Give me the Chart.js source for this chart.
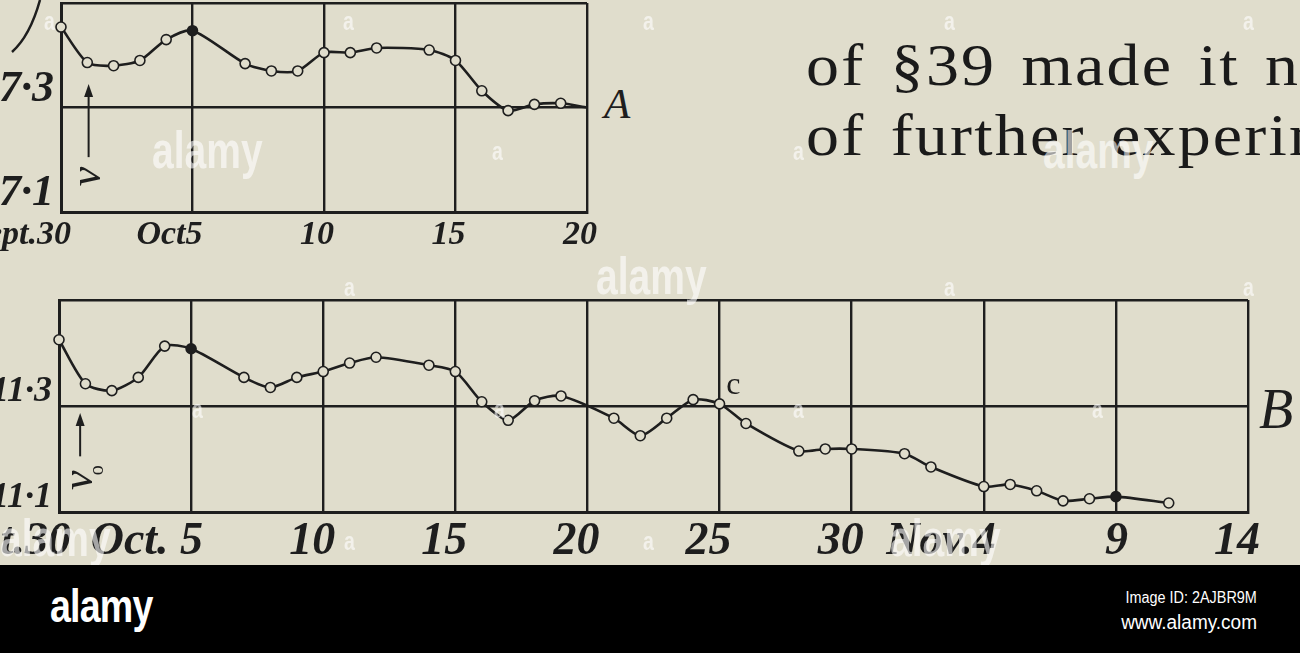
<!DOCTYPE html>
<html>
<head>
<meta charset="utf-8">
<script src="https://cdn.jsdelivr.net/npm/chart.js@4.4.1/dist/chart.umd.min.js"></script>
<style>
  html, body { margin: 0; padding: 0; }
  body {
    width: 1300px; height: 653px; overflow: hidden; position: relative;
    background: #e0ddcc; font-family: "Liberation Serif", serif; color: #1e1e1e;
  }
  .abs { position: absolute; }
  #canvasA { position: absolute; left: -40px; top: -7px; }
  #canvasB { position: absolute; left: -40px; top: 290px; }
  .prose {
    position: absolute; left: 806px; font-size: 60px; line-height: 1;
    letter-spacing: 2px; word-spacing: 6px; white-space: nowrap; color: #1a1a1a;
    transform: scaleX(1.1); transform-origin: 0 0;
  }
  .tag { position: absolute; font-style: italic; line-height: 1; color: #1e1e1e; }
  .wm { position: absolute; color: rgba(255,255,255,0.6); font-family: "Liberation Sans", sans-serif; font-weight: bold; line-height: 1; transform: scaleX(0.75); transform-origin: 0 0; z-index: 4; }
  #banner { position: absolute; left: 0; top: 565px; width: 1300px; height: 88px; background: #000; z-index: 6; }
  #banner div { position: absolute; color: #fff; font-family: "Liberation Sans", sans-serif; line-height: 1; white-space: nowrap; }
</style>
</head>
<body>

<canvas id="canvasA" width="640" height="260"></canvas>
<canvas id="canvasB" width="1300" height="290"></canvas>

<!-- curve at the top left, part of a cut label -->
<svg class="abs" style="left:0;top:0" width="60" height="60">
  <path d="M40 0 Q30 36 12 52" stroke="#1e1e1e" stroke-width="2.5" fill="none"/>
</svg>

<div class="tag" style="left:604px;top:82px;font-size:43px">A</div>
<div class="tag" style="left:1259px;top:381px;font-size:56px">B</div>

<div class="prose" style="top:35px">of §39 made it necessary</div>
<div class="prose" style="top:105px">of further experiments</div>

<!-- watermarks -->
<div class="wm" style="left:152px;top:124px;font-size:52px">alamy</div>
<div class="wm" style="left:596px;top:250px;font-size:52px">alamy</div>
<div class="wm" style="left:1043px;top:124px;font-size:52px">alamy</div>
<div class="wm" style="left:0px;top:512px;font-size:52px">alamy</div>
<div class="wm" style="left:890px;top:512px;font-size:52px">alamy</div>
<div class="wm" style="left:44px;top:8px;font-size:26px">a</div>
<div class="wm" style="left:343px;top:8px;font-size:26px">a</div>
<div class="wm" style="left:643px;top:8px;font-size:26px">a</div>
<div class="wm" style="left:944px;top:8px;font-size:26px">a</div>
<div class="wm" style="left:1243px;top:8px;font-size:26px">a</div>
<div class="wm" style="left:492px;top:138px;font-size:26px">a</div>
<div class="wm" style="left:793px;top:138px;font-size:26px">a</div>
<div class="wm" style="left:344px;top:274px;font-size:26px">a</div>
<div class="wm" style="left:944px;top:274px;font-size:26px">a</div>
<div class="wm" style="left:1243px;top:274px;font-size:26px">a</div>
<div class="wm" style="left:192px;top:396px;font-size:26px">a</div>
<div class="wm" style="left:494px;top:396px;font-size:26px">a</div>
<div class="wm" style="left:793px;top:396px;font-size:26px">a</div>
<div class="wm" style="left:1092px;top:396px;font-size:26px">a</div>
<div class="wm" style="left:344px;top:528px;font-size:26px">a</div>
<div class="wm" style="left:643px;top:528px;font-size:26px">a</div>

<div id="banner">
  <div style="left:50px;top:17px;font-size:47px;font-weight:bold;transform:scaleX(0.8);transform-origin:0 0;letter-spacing:-1px">alamy</div>
  <div style="right:43px;top:25px;font-size:16px;transform:scaleX(0.9);transform-origin:100% 0">Image ID: 2AJBR9M</div>
  <div style="right:43px;top:47px;font-size:20px;transform:scaleX(0.95);transform-origin:100% 0">www.alamy.com</div>
</div>

<script>
// Colours
const INK = '#1e1e1e';
const PAPER = '#e0ddcc';

// Chart A (days after Sept 30)
const daysA = [0, 1, 2, 3, 4, 5, 7, 8, 9, 10, 11, 12, 14, 15, 16, 17, 18, 19, 20];
const valuesA = [7.454, 7.386, 7.380, 7.390, 7.430, 7.447, 7.384, 7.370, 7.370, 7.405,
                 7.405, 7.414, 7.410, 7.390, 7.332, 7.294, 7.306, 7.308, 7.300];
const xTicksA = ['Sept.30', 'Oct5', '10', '15', '20'];
const yTickValuesA = [7.1, 7.3];
const yTickLabelsA = ['7·1', '7·3'];

// Chart B (days after Sept 30)
const daysB = [0, 1, 2, 3, 4, 5, 7, 8, 9, 10, 11, 12, 14, 15, 16, 17, 18, 19,
               21, 22, 23, 24, 25, 26, 28, 29, 30, 32, 33, 35, 36, 37, 38, 39, 40, 42];
const valuesB = [11.425, 11.342, 11.329, 11.354, 11.413, 11.408, 11.354, 11.335, 11.354,
                 11.365, 11.381, 11.392, 11.377, 11.365, 11.308, 11.273, 11.310, 11.319,
                 11.277, 11.244, 11.277, 11.312, 11.304, 11.267, 11.215, 11.219, 11.219,
                 11.210, 11.185, 11.148, 11.152, 11.140, 11.121, 11.125, 11.129, 11.117];
const xTicksB = ['Sept.30', 'Oct. 5', '10', '15', '20', '25', '30', 'Nov.4', '9', '14'];
const yTickValuesB = [11.1, 11.3];
const yTickLabelsB = ['11·1', '11·3'];

// Days drawn with a filled dot instead of an open ring
const filledA = [5];
const filledB = [5, 40];

// Arrow and symbol on the y side of each chart, the "c" note on B
const annotate = {
    id: 'annotate',
    afterDatasetsDraw(chart, args, opts) {
        if (!opts || opts.arrowDay === undefined) return;
        const { ctx, scales: { x, y } } = chart;
        const ax = x.getPixelForValue(opts.arrowDay);
        const yBottom = y.getPixelForValue(opts.arrowFrom);
        const yTop = y.getPixelForValue(opts.arrowTo);
        ctx.save();
        ctx.strokeStyle = INK;
        ctx.fillStyle = INK;
        ctx.lineWidth = 2;
        ctx.beginPath();
        ctx.moveTo(ax, yBottom);
        ctx.lineTo(ax, yTop + 8);
        ctx.stroke();
        ctx.beginPath();
        ctx.moveTo(ax, yTop);
        ctx.lineTo(ax - 4.5, yTop + 13);
        ctx.lineTo(ax + 4.5, yTop + 13);
        ctx.closePath();
        ctx.fill();

        // rotated symbol under the arrow
        const sy = y.getPixelForValue(opts.symbolAt);
        ctx.save();
        ctx.translate(ax, sy);
        ctx.rotate(-Math.PI / 2);
        ctx.font = 'italic 44px "Liberation Serif"';
        ctx.textAlign = 'center';
        ctx.textBaseline = 'middle';
        ctx.fillText('ν', 0, 0);
        if (opts.subscript) {
            ctx.font = '20px "Liberation Serif"';
            ctx.fillText('o', 10, 18);
        }
        ctx.restore();

        if (opts.note) {
            ctx.font = '32px "Liberation Serif"';
            ctx.textAlign = 'left';
            ctx.textBaseline = 'alphabetic';
            ctx.fillText(opts.note.text, x.getPixelForValue(opts.note.day), y.getPixelForValue(opts.note.value));
        }
        ctx.restore();
    }
};

function tickLabel(values, labels) {
    return function(value) {
        for (let i = 0; i < values.length; i++) {
            if (Math.abs(values[i] - value) < 1e-6) return labels[i];
        }
        return '';
    };
}

function makeChart(id, cfg) {
    const points = cfg.days.map((d, i) => ({ x: d, y: cfg.values[i] }));
    const radius = cfg.days.map(d => (cfg.noMarker.includes(d) ? 0 : 5));
    const fills = cfg.days.map(d => (cfg.filled.includes(d) ? INK : PAPER));

    return new Chart(document.getElementById(id).getContext('2d'), {
        type: 'line',
        data: {
            datasets: [{
                data: points,
                borderColor: INK,
                borderWidth: 2.6,
                tension: 0.25,
                pointRadius: radius,
                pointBackgroundColor: fills,
                pointBorderColor: INK,
                pointBorderWidth: 1.6,
                clip: false
            }]
        },
        plugins: [annotate],
        options: {
            responsive: false,
            animation: false,
            events: [],
            layout: { padding: cfg.padding },
            plugins: {
                legend: { display: false },
                tooltip: { enabled: false },
                annotate: cfg.annotate
            },
            scales: {
                x: {
                    type: 'linear',
                    min: 0,
                    max: cfg.xMax,
                    afterFit(scale) {
                        scale.height = cfg.xHeight;
                        scale.paddingLeft = 0;
                        scale.paddingRight = 0;
                    },
                    ticks: {
                        stepSize: 5,
                        autoSkip: false,
                        maxRotation: 0,
                        align: 'end',
                        labelOffset: cfg.xLabelOffset,
                        padding: 3,
                        color: INK,
                        font: { family: 'Liberation Serif', size: cfg.xFont, style: 'italic', weight: 'bold' },
                        callback: (value) => cfg.xTicks[Math.round(value / 5)] || ''
                    },
                    grid: { color: INK, lineWidth: 2.4, drawTicks: false },
                    border: { color: INK, width: 3 }
                },
                y: {
                    min: cfg.yMin,
                    max: cfg.yMax,
                    afterFit(scale) {
                        scale.width = cfg.yWidth;
                        scale.paddingTop = 0;
                        scale.paddingBottom = 0;
                    },
                    ticks: {
                        stepSize: 0.2,
                        padding: 7,
                        labelOffset: cfg.yLabelOffset,
                        color: INK,
                        font: { family: 'Liberation Serif', size: cfg.yFont, style: 'italic', weight: 'bold' },
                        callback: tickLabel(cfg.yTickValues, cfg.yTickLabels)
                    },
                    grid: { color: INK, lineWidth: 2.4, drawTicks: false },
                    border: { color: INK, width: 3 }
                }
            }
        }
    });
}

makeChart('canvasA', {
    days: daysA, values: valuesA, filled: filledA, noMarker: [20],
    xTicks: xTicksA, yTickValues: yTickValuesA, yTickLabels: yTickLabelsA,
    xMax: 20, yMin: 7.1, yMax: 7.5,
    xHeight: 41, yWidth: 101, xFont: 34, xLabelOffset: 10, yFont: 44, yLabelOffset: -18,
    padding: { top: 10, right: 13, left: 0, bottom: 0 },
    annotate: { arrowDay: 1.05, arrowFrom: 7.205, arrowTo: 7.345, symbolAt: 7.168 }
});

makeChart('canvasB', {
    days: daysB, values: valuesB, filled: filledB, noMarker: [],
    xTicks: xTicksB, yTickValues: yTickValuesB, yTickLabels: yTickLabelsB,
    xMax: 45, yMin: 11.1, yMax: 11.5,
    xHeight: 68, yWidth: 99, xFont: 46, xLabelOffset: 12, yFont: 36, yLabelOffset: -14,
    padding: { top: 10, right: 12, left: 0, bottom: 0 },
    annotate: { arrowDay: 0.8, arrowFrom: 11.205, arrowTo: 11.287, symbolAt: 11.16, subscript: true,
                note: { text: 'c', day: 25.25, value: 11.322 } }
});
</script>
</body>
</html>
